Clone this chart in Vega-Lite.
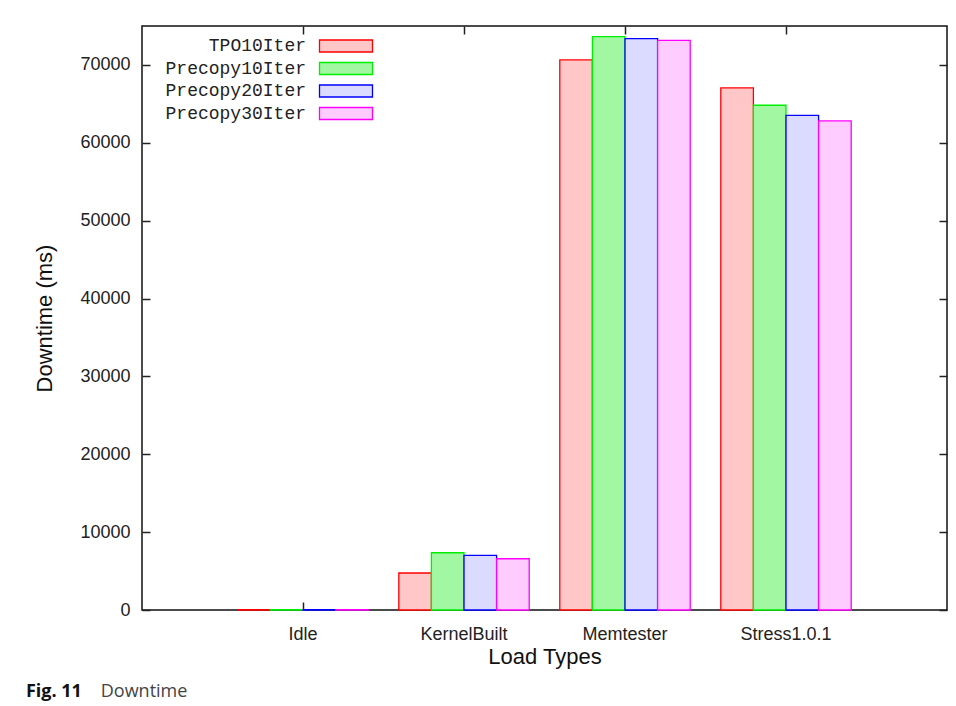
{
  "$schema": "https://vega.github.io/schema/vega-lite/v6.json",
  "width": 805,
  "height": 584,
  "autosize": {"type": "none"},
  "padding": {"left": 142, "top": 26, "right": 9, "bottom": 96},
  "background": "white",
  "config": {
    "view": {"stroke": "#111", "strokeWidth": 1.5},
    "font": "Liberation Sans",
    "axis": {"grid": false, "domain": false, "tickColor": "#222", "tickWidth": 1.5, "labelColor": "#222", "titleColor": "#111", "labelFont": "Liberation Sans", "titleFont": "Liberation Sans", "titleFontWeight": "normal"}
  },
  "title": {
    "text": "Fig. 11",
    "subtitle": "\u200b\u00a0\u00a0\u00a0\u00a0\u00a0\u00a0\u00a0\u00a0\u00a0\u00a0\u00a0\u00a0\u00a0\u00a0\u00a0\u00a0Downtime",
    "orient": "bottom",
    "anchor": "start",
    "frame": "bounds",
    "font": "Open Sans",
    "fontSize": 18,
    "fontWeight": "bold",
    "color": "#111",
    "subtitleFont": "Open Sans",
    "subtitleFontSize": 18,
    "subtitleColor": "#444",
    "subtitlePadding": -18,
    "offset": 16,
    "dx": -8
  },
  "data": {
    "values": [
      {"load": "Idle", "series": "TPO10Iter", "downtime": 60},
      {"load": "Idle", "series": "Precopy10Iter", "downtime": 60},
      {"load": "Idle", "series": "Precopy20Iter", "downtime": 60},
      {"load": "Idle", "series": "Precopy30Iter", "downtime": 60},
      {"load": "KernelBuilt", "series": "TPO10Iter", "downtime": 4750},
      {"load": "KernelBuilt", "series": "Precopy10Iter", "downtime": 7350},
      {"load": "KernelBuilt", "series": "Precopy20Iter", "downtime": 7020},
      {"load": "KernelBuilt", "series": "Precopy30Iter", "downtime": 6580},
      {"load": "Memtester", "series": "TPO10Iter", "downtime": 70640},
      {"load": "Memtester", "series": "Precopy10Iter", "downtime": 73630},
      {"load": "Memtester", "series": "Precopy20Iter", "downtime": 73370},
      {"load": "Memtester", "series": "Precopy30Iter", "downtime": 73150},
      {"load": "Stress1.0.1", "series": "TPO10Iter", "downtime": 67050},
      {"load": "Stress1.0.1", "series": "Precopy10Iter", "downtime": 64820},
      {"load": "Stress1.0.1", "series": "Precopy20Iter", "downtime": 63530},
      {"load": "Stress1.0.1", "series": "Precopy30Iter", "downtime": 62810}
    ]
  },
  "resolve": {"axis": {"x": "independent", "y": "independent"}},
  "layer": [
    {
      "mark": {"type": "bar", "strokeWidth": 1.3},
      "encoding": {
        "x": {
          "field": "load", "type": "nominal",
          "sort": ["Idle", "KernelBuilt", "Memtester", "Stress1.0.1"],
          "scale": {"paddingInner": 0.19, "paddingOuter": 0.595},
          "axis": {"title": "Load Types", "labelAngle": 0, "labelFontSize": 18, "titleFontSize": 22, "tickSize": -8, "labelPadding": 23, "titlePadding": 3}
        },
        "xOffset": {"field": "series", "sort": ["TPO10Iter", "Precopy10Iter", "Precopy20Iter", "Precopy30Iter"]},
        "y": {
          "field": "downtime", "type": "quantitative",
          "scale": {"domain": [0, 75000], "nice": false},
          "axis": {"title": "Downtime (ms)", "values": [0, 10000, 20000, 30000, 40000, 50000, 60000, 70000], "format": "d", "labelFontSize": 18, "titleFontSize": 22, "tickSize": -8, "labelPadding": 20, "titlePadding": 23}
        },
        "fill": {
          "field": "series", "type": "nominal",
          "scale": {"domain": ["TPO10Iter", "Precopy10Iter", "Precopy20Iter", "Precopy30Iter"], "range": ["#ffc7c7", "#a2f7a2", "#dbdbff", "#ffccff"]},
          "legend": {
            "title": null, "orient": "none", "legendX": 194, "legendY": 10,
            "labelFont": "Liberation Mono", "labelFontSize": 18, "labelColor": "#222",
            "labelAlign": "right", "labelOffset": -50,
            "symbolType": "M-2.944,-0.667H2.944V0.667H-2.944Z", "symbolSize": 324, "symbolStrokeWidth": 1.3,
            "rowPadding": 3.5
          }
        },
        "stroke": {
          "field": "series", "type": "nominal",
          "scale": {"domain": ["TPO10Iter", "Precopy10Iter", "Precopy20Iter", "Precopy30Iter"], "range": ["#ff0000", "#00ee00", "#0000ff", "#ff00ff"]}
        }
      }
    },
    {
      "mark": {"type": "bar", "opacity": 0},
      "encoding": {
        "x": {
          "field": "load", "type": "nominal",
          "sort": ["Idle", "KernelBuilt", "Memtester", "Stress1.0.1"],
          "axis": {"orient": "top", "labels": false, "title": null, "tickSize": -8}
        },
        "y": {
          "field": "downtime", "type": "quantitative",
          "axis": {"orient": "right", "labels": false, "title": null, "values": [0, 10000, 20000, 30000, 40000, 50000, 60000, 70000], "tickSize": -8}
        }
      }
    }
  ]
}
